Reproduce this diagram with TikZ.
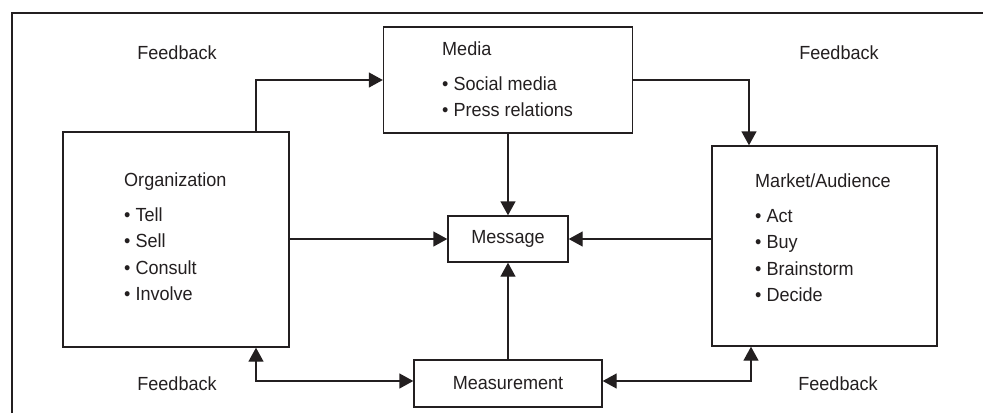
\documentclass[tikz,border=0pt]{standalone}
\usepackage{fontspec}
\setmainfont{Liberation Sans}[FakeStretch=0.95]
\usetikzlibrary{arrows.meta}
\definecolor{ink}{HTML}{231F20}
\begin{document}
\begin{tikzpicture}[x=1pt, y=-1pt,
  box/.style={draw=ink, line width=1.4pt, inner sep=0pt},
  txt/.style={text=ink, font=\fontsize{19}{26.5}\selectfont},
  list/.style={txt, align=left, anchor=north west, inner sep=0pt},
  arr/.style={draw=ink, line width=1.4pt, -{Triangle[length=14pt, width=15pt]}},
  twoway/.style={draw=ink, line width=1.4pt, {Triangle[length=14pt, width=15pt]}-{Triangle[length=14pt, width=15pt]}}]
  \useasboundingbox (0,0) rectangle (983,413);
  \draw[ink, line width=2.4pt] (12,413) -- (12,13) -- (983,13);

  \node[box, minimum width=226pt, minimum height=215pt] (org) at (176,239.5) {};
  \node[box, minimum width=249pt, minimum height=106pt] (media) at (508,80) {};
  \node[box, minimum width=225pt, minimum height=200pt] (market) at (824.5,246) {};
  \node[box, minimum width=120pt, minimum height=46pt, txt] (message) at (508,239) {Message};
  \node[box, minimum width=188pt, minimum height=47pt, txt] (measure) at (508,383.5) {Measurement};

  \node[list] (orgtext) at (124,173) {Organization\\[8pt]
    \textbullet\ Tell\\ \textbullet\ Sell\\ \textbullet\ Consult\\ \textbullet\ Involve};
  \node[list] (mediatext) at (442,42) {Media\\[8pt]
    \textbullet\ Social media\\ \textbullet\ Press relations};
  \node[list] (markettext) at (755,174) {Market/Audience\\[8pt]
    \textbullet\ Act\\ \textbullet\ Buy\\ \textbullet\ Brainstorm\\ \textbullet\ Decide};

  \node[txt] (fb1) at (177,53) {Feedback};
  \node[txt] (fb2) at (839,53) {Feedback};
  \node[txt] (fb3) at (177,384) {Feedback};
  \node[txt] (fb4) at (838,384) {Feedback};

  \draw[arr] ([xshift=80pt]org.north) |- (media.west);
  \draw[arr] (media.east) -| ([xshift=-75.5pt]market.north);
  \draw[arr] (media.south) -- (message.north);
  \draw[arr] (org.east |- message.west) -- (message.west);
  \draw[arr] (market.west |- message.east) -- (message.east);
  \draw[arr] (measure.north) -- (message.south);
  \draw[twoway] ([xshift=80pt]org.south) |- ([yshift=2.5pt]measure.west);
  \draw[twoway] ([yshift=2.5pt]measure.east) -| ([xshift=-73.5pt]market.south);
\end{tikzpicture}
\end{document}
